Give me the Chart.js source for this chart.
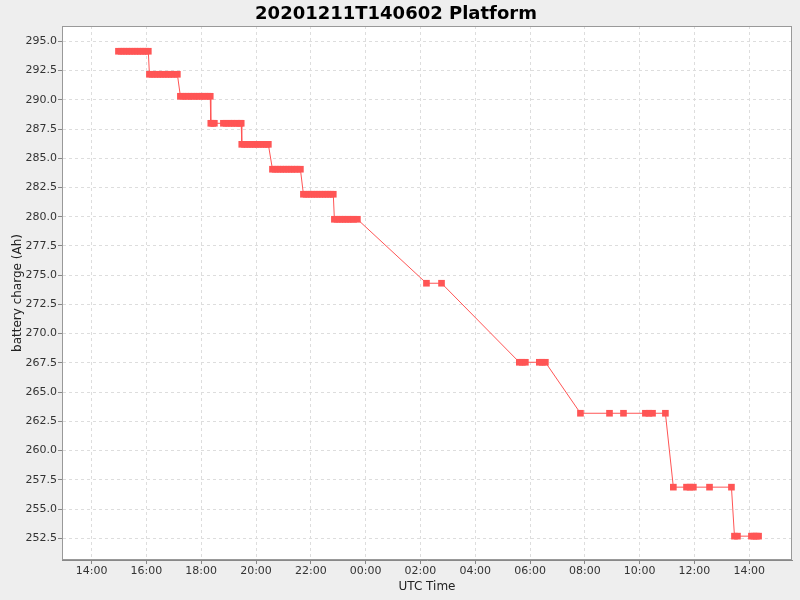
<!DOCTYPE html>
<html>
<head>
<meta charset="utf-8">
<script src="https://cdn.jsdelivr.net/npm/chart.js@4"></script>
<style>
  html, body { margin: 0; padding: 0; background: #eeeeee; }
  #wrap { width: 800px; height: 600px; }
</style>
</head>
<body>
<div id="wrap"><canvas id="myChart" width="800" height="600"></canvas></div>
<script>
// hours since 2020-12-11 00:00 UTC (values > 24 are the next day)
const hours = [
  14.98, 15.08, 15.18, 15.28, 15.38, 15.48, 15.58, 15.68, 15.78, 15.88, 15.98, 16.07,
  16.11, 16.21, 16.31, 16.41, 16.51, 16.61, 16.71, 16.81, 16.91, 17.01, 17.13,
  17.24, 17.34, 17.44, 17.54, 17.64, 17.74, 17.84, 17.94, 18.04, 18.14, 18.24, 18.33,
  18.35, 18.42, 18.48, 18.81, 18.91, 19.01, 19.11, 19.21, 19.31, 19.41, 19.46,
  19.48, 19.58, 19.68, 19.78, 19.88, 19.98, 20.08, 20.18, 20.28, 20.38, 20.45,
  20.60, 20.70, 20.80, 20.90, 21.00, 21.10, 21.20, 21.30, 21.40, 21.50, 21.62,
  21.73, 21.83, 21.93, 22.03, 22.13, 22.23, 22.33, 22.43, 22.53, 22.63, 22.73, 22.82,
  22.86, 22.96, 23.06, 23.16, 23.26, 23.36, 23.46, 23.56, 23.70,
  26.22, 26.77,
  29.61, 29.72, 29.83, 30.34, 30.45, 30.56,
  31.84, 32.90, 33.41, 34.21, 34.34, 34.47, 34.94,
  35.23, 35.71, 35.84, 35.96, 36.55, 37.35,
  37.46, 37.57, 38.08, 38.17, 38.26, 38.34
];
const charge = [
  294.15, 294.15, 294.15, 294.15, 294.15, 294.15, 294.15, 294.15, 294.15, 294.15, 294.15, 294.15,
  292.18, 292.18, 292.18, 292.18, 292.18, 292.18, 292.18, 292.18, 292.18, 292.18, 292.18,
  290.30, 290.30, 290.30, 290.30, 290.30, 290.30, 290.30, 290.30, 290.30, 290.30, 290.30, 290.30,
  287.99, 287.99, 287.99, 287.99, 287.99, 287.99, 287.99, 287.99, 287.99, 287.99, 287.99,
  286.19, 286.19, 286.19, 286.19, 286.19, 286.19, 286.19, 286.19, 286.19, 286.19, 286.19,
  284.06, 284.06, 284.06, 284.06, 284.06, 284.06, 284.06, 284.06, 284.06, 284.06, 284.06,
  281.92, 281.92, 281.92, 281.92, 281.92, 281.92, 281.92, 281.92, 281.92, 281.92, 281.92, 281.92,
  279.78, 279.78, 279.78, 279.78, 279.78, 279.78, 279.78, 279.78, 279.78,
  274.31, 274.31,
  267.55, 267.55, 267.55, 267.55, 267.55, 267.55,
  263.19, 263.19, 263.19, 263.19, 263.19, 263.19, 263.19,
  256.87, 256.87, 256.87, 256.87, 256.87, 256.87,
  252.68, 252.68, 252.68, 252.68, 252.68, 252.68
];

const xTicks = [14, 16, 18, 20, 22, 24, 26, 28, 30, 32, 34, 36, 38];
const xTickLabels = ["14:00", "16:00", "18:00", "20:00", "22:00", "00:00", "02:00",
  "04:00", "06:00", "08:00", "10:00", "12:00", "14:00"];
const yTicks = [252.5, 255, 257.5, 260, 262.5, 265, 267.5, 270, 272.5, 275, 277.5,
  280, 282.5, 285, 287.5, 290, 292.5, 295];

const points = hours.map(function (h, i) { return { x: h, y: charge[i] }; });

// grey page, white plot, grey plot outline
const plotFrame = {
  id: "plotFrame",
  beforeDraw: function (chart) {
    const ctx = chart.ctx, a = chart.chartArea;
    ctx.save();
    ctx.fillStyle = "#eeeeee";
    ctx.fillRect(0, 0, chart.width, chart.height);
    ctx.fillStyle = "#ffffff";
    ctx.fillRect(a.left, a.top, a.right - a.left, a.bottom - a.top);
    ctx.restore();
  },
  afterDraw: function (chart) {
    const ctx = chart.ctx, a = chart.chartArea;
    ctx.save();
    ctx.strokeStyle = "#999999";
    ctx.lineWidth = 1;
    ctx.strokeRect(a.left + 0.5, a.top + 0.5, a.right - a.left - 1, a.bottom - a.top - 1);
    ctx.restore();
  }
};

new Chart(document.getElementById("myChart"), {
  type: "line",
  data: {
    datasets: [{
      data: points,
      borderColor: "#ff5555",
      borderWidth: 1,
      backgroundColor: "#ff5555",
      pointStyle: "rect",
      pointRadius: 4.7,
      pointBorderWidth: 0,
      pointBackgroundColor: "#ff5555",
      tension: 0
    }]
  },
  options: {
    responsive: false,
    animation: false,
    devicePixelRatio: 1,
    layout: { padding: { left: 0, right: 8, top: 0, bottom: 0 } },
    plugins: {
      legend: { display: false },
      tooltip: { enabled: false },
      title: {
        display: true,
        text: "20201211T140602 Platform",
        color: "#000000",
        font: { family: "DejaVu Sans", size: 18, weight: "bold", lineHeight: 1.2 },
        padding: { top: 3.6, bottom: 0.8 }
      }
    },
    scales: {
      x: {
        type: "linear",
        min: 12.92,
        max: 39.56,
        afterFit: function (scale) { scale.height = 40; },
        afterBuildTicks: function (scale) {
          scale.ticks = xTicks.map(function (v) { return { value: v }; });
        },
        ticks: {
          color: "#333333",
          font: { family: "DejaVu Sans", size: 11 },
          padding: 1,
          maxRotation: 0,
          autoSkip: false,
          callback: function (value) {
            const i = xTicks.indexOf(value);
            return i >= 0 ? xTickLabels[i] : "";
          }
        },
        grid: {
          color: "#dddddd",
          tickColor: "#888888",
          tickLength: 4,
          tickBorderDash: [],
          drawOnChartArea: true
        },
        border: { display: true, color: "#888888", dash: [3, 3] },
        title: {
          display: true,
          text: "UTC Time",
          color: "#222222",
          font: { family: "DejaVu Sans", size: 12 },
          padding: { top: 0, bottom: 6 }
        }
      },
      y: {
        type: "linear",
        min: 250.64,
        max: 296.31,
        afterFit: function (scale) { scale.width = 62; },
        afterBuildTicks: function (scale) {
          scale.ticks = yTicks.map(function (v) { return { value: v }; });
        },
        ticks: {
          color: "#333333",
          font: { family: "DejaVu Sans", size: 11 },
          padding: 1,
          callback: function (value) { return value.toFixed(1); }
        },
        grid: {
          color: "#dddddd",
          tickColor: "#888888",
          tickLength: 4,
          tickBorderDash: []
        },
        border: { display: true, color: "#888888", dash: [3, 3] },
        title: {
          display: true,
          text: "battery charge (Ah)",
          color: "#222222",
          font: { family: "DejaVu Sans", size: 12 },
          padding: { top: 11, bottom: 0 }
        }
      }
    }
  },
  plugins: [plotFrame]
});
</script>
</body>
</html>
